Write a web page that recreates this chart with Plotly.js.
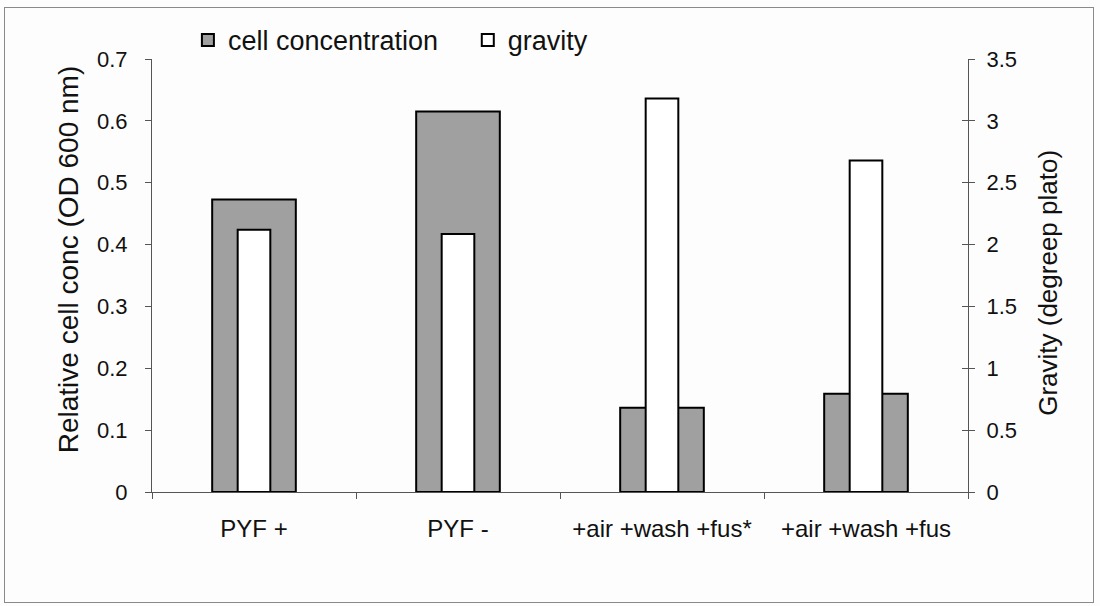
<!DOCTYPE html>
<html>
<head>
<meta charset="utf-8">
<script src="https://cdn.plot.ly/plotly-3.0.1.min.js"></script>
<style>
  html, body { margin: 0; padding: 0; background: #fdfdfd; }
  #wrap { position: relative; width: 1100px; height: 606px; }
  #chart { position: absolute; left: 0; top: 0; width: 1100px; height: 606px; }
  #frame { position: absolute; left: 4px; top: 7px; width: 1088px; height: 594px;
           border: 1.5px solid #8a8a8a; pointer-events: none; }
</style>
</head>
<body>
<div id="wrap">
  <div id="chart"></div>
  <div id="frame"></div>
</div>
<script>
const categories = ["PYF +", "PYF -", "+air +wash +fus*", "+air +wash +fus"];
const cellConcentration = [0.473, 0.615, 0.136, 0.159];
const gravity = [2.12, 2.085, 3.18, 2.68];
const leftTicks = [0, 0.1, 0.2, 0.3, 0.4, 0.5, 0.6, 0.7];
const rightTicks = [0, 0.5, 1, 1.5, 2, 2.5, 3, 3.5];
const leftTitle = "Relative cell conc (OD 600 nm)";
const rightTitle = "Gravity (degreep plato)";

const FONT = "Liberation Sans, Arial, sans-serif";
const INK = "#111111";
const AXIS = "#555555";

const traces = [
  {
    type: "bar",
    name: "cell concentration",
    x: categories,
    y: cellConcentration,
    yaxis: "y",
    width: 0.41,
    legend: "legend",
    marker: { color: "#a0a0a0", line: { color: "#000000", width: 2 } },
    hoverinfo: "skip"
  },
  {
    type: "bar",
    name: "gravity",
    x: categories,
    y: gravity,
    yaxis: "y2",
    width: 0.16,
    legend: "legend2",
    marker: { color: "#ffffff", line: { color: "#000000", width: 2 } },
    hoverinfo: "skip"
  },
  // invisible trace that activates yaxis3 (inner half of the right axis' cross ticks)
  {
    type: "scatter", x: [categories[0]], y: [null], yaxis: "y3",
    showlegend: false, hoverinfo: "skip", mode: "markers"
  }
];

const legendFont = { family: FONT, size: 27, color: INK };

const layout = {
  width: 1100,
  height: 606,
  paper_bgcolor: "rgba(0,0,0,0)",
  plot_bgcolor: "rgba(0,0,0,0)",
  margin: { l: 152, r: 132, t: 59, b: 113.5, pad: 0 },
  barmode: "overlay",
  showlegend: true,
  legend: {
    orientation: "h",
    x: 0.044, xanchor: "left",
    y: 1.043, yanchor: "middle",
    font: legendFont,
    bgcolor: "rgba(0,0,0,0)"
  },
  legend2: {
    orientation: "h",
    x: 0.387, xanchor: "left",
    y: 1.043, yanchor: "middle",
    font: legendFont,
    bgcolor: "rgba(0,0,0,0)"
  },
  font: { family: FONT, color: INK },
  xaxis: {
    type: "category",
    showline: true, linecolor: AXIS, linewidth: 1,
    ticks: "outside", tickson: "boundaries", ticklen: 6, tickcolor: AXIS,
    ticklabelstandoff: 15,
    tickfont: { family: FONT, size: 24, color: INK },
    showgrid: false, zeroline: false,
    automargin: false
  },
  yaxis: {
    range: [0, 0.7],
    tickvals: leftTicks,
    ticktext: leftTicks.map(String),
    showline: true, linecolor: AXIS, linewidth: 1,
    ticks: "outside", ticklen: 6, tickcolor: AXIS,
    ticklabelstandoff: 13,
    tickfont: { family: FONT, size: 22, color: INK },
    showgrid: false, zeroline: false,
    automargin: false
  },
  yaxis2: {
    range: [0, 3.5],
    tickvals: rightTicks,
    ticktext: rightTicks.map(String),
    overlaying: "y", side: "right", anchor: "x",
    showline: true, linecolor: AXIS, linewidth: 1,
    ticks: "outside", ticklen: 6, tickcolor: AXIS,
    ticklabelstandoff: 7,
    tickfont: { family: FONT, size: 22, color: INK },
    showgrid: false, zeroline: false,
    automargin: false
  },
  yaxis3: {
    range: [0, 3.5],
    tickvals: rightTicks,
    overlaying: "y", side: "right", anchor: "x",
    showline: false,
    ticks: "inside", ticklen: 6, tickcolor: AXIS,
    showticklabels: false,
    showgrid: false, zeroline: false,
    automargin: false
  },
  annotations: [
    {
      text: leftTitle, textangle: -90,
      xref: "paper", yref: "paper",
      x: -0.102, y: 0.537, xanchor: "center", yanchor: "middle",
      showarrow: false,
      font: { family: FONT, size: 28, color: INK }
    },
    {
      text: rightTitle, textangle: -90,
      xref: "paper", yref: "paper",
      x: 1.098, y: 0.483, xanchor: "center", yanchor: "middle",
      showarrow: false,
      font: { family: FONT, size: 26, color: INK }
    }
  ]
};

Plotly.newPlot("chart", traces, layout, { staticPlot: true, displayModeBar: false });
</script>
</body>
</html>
